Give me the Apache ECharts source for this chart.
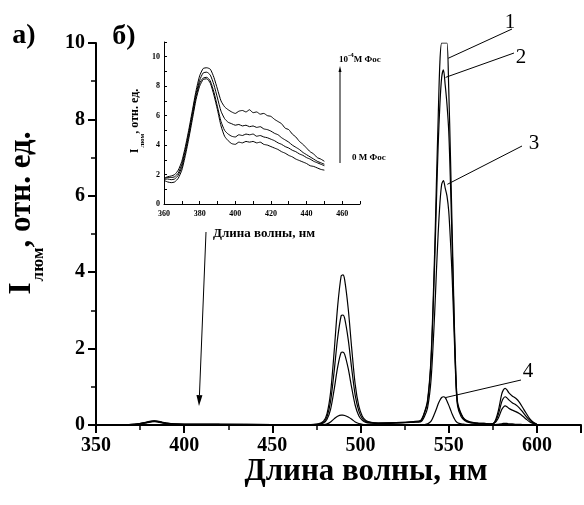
<!DOCTYPE html>
<html>
<head>
<meta charset="utf-8">
<script src="https://cdn.jsdelivr.net/npm/echarts@6/dist/echarts.min.js"></script>
<style>
  html, body { margin: 0; padding: 0; background: #fff; }
  #chart { width: 584px; height: 505px; }
</style>
</head>
<body>
<div id="chart"></div>
<script>
// main spectrum (а): wavelength, nm
const wavelengths = [
  350, 365, 372, 376, 379, 381, 383, 385, 387, 390, 394, 400, 420, 450, 470,
  476, 479, 481, 483, 485, 487, 489, 490, 491, 493, 495, 497, 499, 501, 503, 506, 510, 520, 530,
  534, 536, 538, 540, 542, 543, 544, 545, 546, 547, 548, 549, 550, 551, 552, 553, 554, 555, 557, 559, 562, 566, 570,
  574, 576, 578, 580, 581, 582, 583, 584, 586, 588, 590, 592, 594, 596, 598, 600
];
const curve1 = [
  0, 0.005, 0.02, 0.05, 0.08, 0.1, 0.11, 0.1, 0.08, 0.05, 0.03, 0.02, 0.02, 0.01, 0.01,
  0.03, 0.1, 0.3, 0.85, 1.9, 3.1, 3.9, 3.93, 3.8, 3.05, 2.0, 1.05, 0.5, 0.23, 0.12, 0.07, 0.05, 0.06, 0.09,
  0.12, 0.3, 0.65, 1.8, 4.5, 6.3, 8.0, 9.5, 10, 10, 10, 10, 8.8, 7.0, 5.0, 3.0, 1.4, 0.6, 0.3, 0.15, 0.08, 0.05, 0.04,
  0.03, 0.08, 0.35, 0.8, 0.92, 0.96, 0.92, 0.85, 0.76, 0.7, 0.6, 0.45, 0.3, 0.16, 0.07, 0.02
];
const curve2 = [
  0, 0.005, 0.02, 0.05, 0.07, 0.09, 0.1, 0.09, 0.07, 0.05, 0.03, 0.02, 0.02, 0.01, 0.01,
  0.02, 0.07, 0.22, 0.62, 1.39, 2.27, 2.86, 2.88, 2.79, 2.24, 1.47, 0.77, 0.37, 0.17, 0.09, 0.06, 0.05, 0.06, 0.08,
  0.1, 0.28, 0.6, 1.7, 4.2, 5.8, 7.3, 8.4, 9.1, 9.3, 8.9, 8.4, 7.7, 6.3, 4.6, 2.8, 1.3, 0.55, 0.28, 0.14, 0.07, 0.05, 0.04,
  0.03, 0.06, 0.26, 0.6, 0.7, 0.74, 0.71, 0.66, 0.58, 0.53, 0.45, 0.34, 0.22, 0.12, 0.05, 0.02
];
const curve3 = [
  0, 0.005, 0.02, 0.04, 0.07, 0.09, 0.1, 0.09, 0.07, 0.04, 0.02, 0.02, 0.015, 0.01, 0.01,
  0.02, 0.05, 0.15, 0.41, 0.92, 1.51, 1.9, 1.91, 1.85, 1.48, 0.97, 0.51, 0.24, 0.12, 0.07, 0.05, 0.04, 0.05, 0.07,
  0.08, 0.2, 0.45, 1.2, 2.9, 4.0, 5.0, 5.8, 6.3, 6.4, 6.2, 6.0, 5.6, 4.8, 3.8, 2.5, 1.2, 0.5, 0.22, 0.12, 0.06, 0.04, 0.03,
  0.02, 0.05, 0.17, 0.4, 0.47, 0.5, 0.48, 0.44, 0.39, 0.35, 0.3, 0.23, 0.15, 0.08, 0.04, 0.01
];
const curve4 = [
  0, 0.005, 0.02, 0.04, 0.06, 0.08, 0.09, 0.08, 0.06, 0.04, 0.02, 0.02, 0.015, 0.01, 0.005,
  0, 0.01, 0.03, 0.08, 0.16, 0.23, 0.26, 0.26, 0.25, 0.21, 0.15, 0.08, 0.04, 0.02, 0.01, 0, 0, 0, 0.005,
  0, 0.01, 0.03, 0.1, 0.3, 0.42, 0.55, 0.65, 0.72, 0.74, 0.72, 0.63, 0.52, 0.4, 0.28, 0.18, 0.1, 0.06, 0.03, 0.02, 0.01, 0, 0,
  0.01, 0.01, 0.02, 0.03, 0.04, 0.04, 0.04, 0.03, 0.03, 0.02, 0.02, 0.01, 0.01, 0.01, 0, 0
];

// inset (б)
const insetNm = [
  360, 362, 364, 366, 368, 370, 372, 374, 376, 378,
  380, 382, 384, 386, 388, 390, 392, 394, 396, 398,
  400, 402, 404, 406, 408, 410, 412, 414, 416, 418,
  420, 422, 424, 426, 428, 430, 432, 434, 436, 438,
  440, 442, 444, 446, 448, 450
];
const insetTop = [
  1.75, 1.85, 1.9, 2.0, 2.3, 2.9, 3.9, 5.1, 6.4, 7.7,
  8.7, 9.2, 9.25, 9.15, 8.6, 7.8, 7.0, 6.6, 6.4, 6.25,
  6.15, 6.3, 6.35, 6.25, 6.4, 6.2, 6.25, 6.1, 6.15, 6.0,
  5.95, 5.75, 5.6, 5.45, 5.15, 5.05, 4.75, 4.55, 4.25, 4.05,
  3.8, 3.55, 3.4, 3.15, 3.05, 2.9
];
const insetSecond = [
  1.7, 1.8, 1.8, 1.85, 2.1, 2.7, 3.7, 4.9, 6.2, 7.5,
  8.4, 8.9, 8.95, 8.75, 8.1, 7.2, 6.3, 5.8, 5.55, 5.45,
  5.35, 5.4, 5.3, 5.35, 5.25, 5.3, 5.2, 5.25, 5.1, 5.05,
  4.95, 4.8, 4.7, 4.5, 4.35, 4.2, 4.0, 3.85, 3.7, 3.5,
  3.35, 3.2, 3.05, 2.9, 2.8, 2.7
];
const insetThird = [
  1.65, 1.7, 1.65, 1.7, 1.95, 2.5, 3.5, 4.7, 6.0, 7.3,
  8.2, 8.55, 8.6, 8.35, 7.6, 6.6, 5.6, 5.0, 4.75, 4.6,
  4.55, 4.7, 4.65, 4.75, 4.7, 4.75, 4.6, 4.65, 4.55, 4.5,
  4.4, 4.3, 4.15, 4.05, 3.9, 3.8, 3.65, 3.55, 3.4, 3.3,
  3.15, 3.05, 2.9, 2.8, 2.7, 2.6
];
const insetBottom = [
  1.6, 1.5, 1.45, 1.5, 1.75, 2.3, 3.3, 4.5, 5.8, 7.1,
  8.0, 8.45, 8.5, 8.2, 7.4, 6.4, 5.3, 4.6, 4.3, 4.1,
  4.05, 4.2, 4.15, 4.25, 4.2, 4.25, 4.15, 4.2, 4.05, 4.0,
  3.9, 3.8, 3.7, 3.55, 3.45, 3.3, 3.2, 3.05, 2.95, 2.85,
  2.75, 2.6, 2.55, 2.45, 2.35, 2.3
];

// curve numbers and the point each leader line ends on
const curveLabels = ['1', '2', '3', '4'];
const labelTargets = [[549.7, 9.6], [548.2, 9.1], [549.2, 6.3], [548.4, 0.72]];

const serif = '"Liberation Serif", "DejaVu Serif", serif';
const zip = (xs, ys) => xs.map((x, i) => [x, ys[i]]);

const mainCurves = [curve1, curve2, curve3, curve4];
const insetCurves = [insetTop, insetSecond, insetThird, insetBottom];

const chart = echarts.init(document.getElementById('chart'));

const boldLabel = (size) => ({
  color: '#000', fontFamily: serif, fontWeight: 'bold', fontSize: size
});

const option = {
  animation: false,
  backgroundColor: '#fff',
  grid: [
    { left: 96, top: 43, width: 492, bottom: 80 },
    { left: 164, top: 42, width: 196, height: 162 }
  ],
  xAxis: [
    {
      gridIndex: 0, type: 'value', min: 350, max: 625, interval: 50,
      axisLine: { lineStyle: { color: '#000', width: 2 } },
      axisTick: { length: 8, lineStyle: { color: '#000', width: 2 } },
      minorTick: { show: true, splitNumber: 2, length: 5, lineStyle: { color: '#000', width: 1.5 } },
      splitLine: { show: false },
      axisLabel: Object.assign(boldLabel(20), {
        margin: 11,
        formatter: (v) => (v <= 600 ? String(v) : '')
      })
    },
    {
      gridIndex: 1, type: 'value', min: 360, max: 470, interval: 10,
      axisLine: { lineStyle: { color: '#000', width: 1 } },
      axisTick: { inside: true, length: 3, lineStyle: { color: '#000', width: 1 } },
      splitLine: { show: false },
      axisLabel: Object.assign(boldLabel(8), {
        margin: 6,
        formatter: (v) => (v % 20 === 0 ? String(v) : '')
      })
    }
  ],
  yAxis: [
    {
      gridIndex: 0, type: 'value', min: 0, max: 10, interval: 2,
      axisLine: { show: true, lineStyle: { color: '#000', width: 2 } },
      axisTick: { show: true, length: 8, lineStyle: { color: '#000', width: 2 } },
      minorTick: { show: true, splitNumber: 2, length: 5, lineStyle: { color: '#000', width: 1.5 } },
      splitLine: { show: false },
      axisLabel: Object.assign(boldLabel(20), { margin: 11 })
    },
    {
      gridIndex: 1, type: 'value', min: 0, max: 11, interval: 1,
      axisLine: { show: true, lineStyle: { color: '#000', width: 1 } },
      axisTick: { show: true, inside: true, length: 3, lineStyle: { color: '#000', width: 1 } },
      splitLine: { show: false },
      axisLabel: Object.assign(boldLabel(8), {
        margin: 4,
        formatter: (v) => (v % 2 === 0 && v <= 10 ? String(v) : '')
      })
    }
  ],
  series: mainCurves.map((ys) => ({
    type: 'line', xAxisIndex: 0, yAxisIndex: 0,
    data: zip(wavelengths, ys),
    showSymbol: false, symbol: 'none', smooth: 0.3,
    lineStyle: { color: '#000', width: 1.2 }
  })).concat(insetCurves.map((ys) => ({
    type: 'line', xAxisIndex: 1, yAxisIndex: 1,
    data: zip(insetNm, ys),
    showSymbol: false, symbol: 'none', smooth: 0.2,
    lineStyle: { color: '#000', width: 1 }
  })))
};
chart.setOption(option);

function arrow(from, to, head, half, width) {
  const dx = to[0] - from[0], dy = to[1] - from[1];
  const len = Math.hypot(dx, dy);
  const ux = dx / len, uy = dy / len;
  const bx = to[0] - ux * head, by = to[1] - uy * head;
  return [
    { type: 'line', shape: { x1: from[0], y1: from[1], x2: bx, y2: by },
      style: { stroke: '#000', lineWidth: width } },
    { type: 'polygon',
      shape: { points: [to, [bx - uy * half, by + ux * half], [bx + uy * half, by - ux * half]] },
      style: { fill: '#000' } }
  ];
}

function text(x, y, str, size, weight, align) {
  return {
    type: 'text', x: x, y: y,
    style: {
      text: str, fill: '#000', fontFamily: serif, fontSize: size,
      fontWeight: weight || 'bold', align: align || 'center', verticalAlign: 'middle'
    }
  };
}

function subTitle(x, y, big, small, drop) {
  return {
    type: 'text', x: x, y: y, rotation: Math.PI / 2,
    style: {
      text: '{a|I}{s|люм}{a|, отн. ед.}',
      align: 'center', verticalAlign: 'middle', fill: '#000',
      rich: {
        a: { fontSize: big, fontWeight: 'bold', fontFamily: serif, fill: '#000', verticalAlign: 'top' },
        s: { fontSize: small, fontWeight: 'bold', fontFamily: serif, fill: '#000',
             verticalAlign: 'bottom', padding: [drop, 0, 0, 1] }
      }
    }
  };
}

const labelAnchors = [[510, 22], [521, 57], [534, 143], [528, 371]];
const lineStarts = [[512, 29], [514, 53], [522, 146], [521, 380]];

const elements = [
  text(24, 36, 'а)', 28),
  text(124, 37, 'б)', 28),
  text(366, 472, 'Длина волны, нм', 31),
  subTitle(27, 213, 31, 17, 24),
  text(264, 234, 'Длина волны, нм', 13),
  subTitle(137, 121, 12, 7, 10),
  {
    type: 'text', x: 339, y: 58,
    style: {
      text: '{n|10}{p|-4}{n|M Фос}', fill: '#000', align: 'left', verticalAlign: 'middle',
      rich: {
        n: { fontSize: 9, fontWeight: 'bold', fontFamily: serif, fill: '#000', verticalAlign: 'bottom', padding: [4, 0, 0, 0] },
        p: { fontSize: 7, fontWeight: 'bold', fontFamily: serif, fill: '#000', verticalAlign: 'top' }
      }
    }
  },
  text(352, 158, '0 M Фос', 9, 'bold', 'left')
]
  .concat(arrow([340, 163], [340, 66], 6, 1.5, 1))
  .concat(arrow([206, 232], [199, 406], 11, 3, 1));

curveLabels.forEach((lab, i) => {
  const end = chart.convertToPixel({ gridIndex: 0 }, labelTargets[i]);
  elements.push(text(labelAnchors[i][0], labelAnchors[i][1], lab, 21, 'normal'));
  elements.push({
    type: 'line',
    shape: { x1: lineStarts[i][0], y1: lineStarts[i][1], x2: end[0], y2: end[1] },
    style: { stroke: '#000', lineWidth: 1 }
  });
});

chart.setOption({ graphic: { elements: elements } });
</script>
</body>
</html>
